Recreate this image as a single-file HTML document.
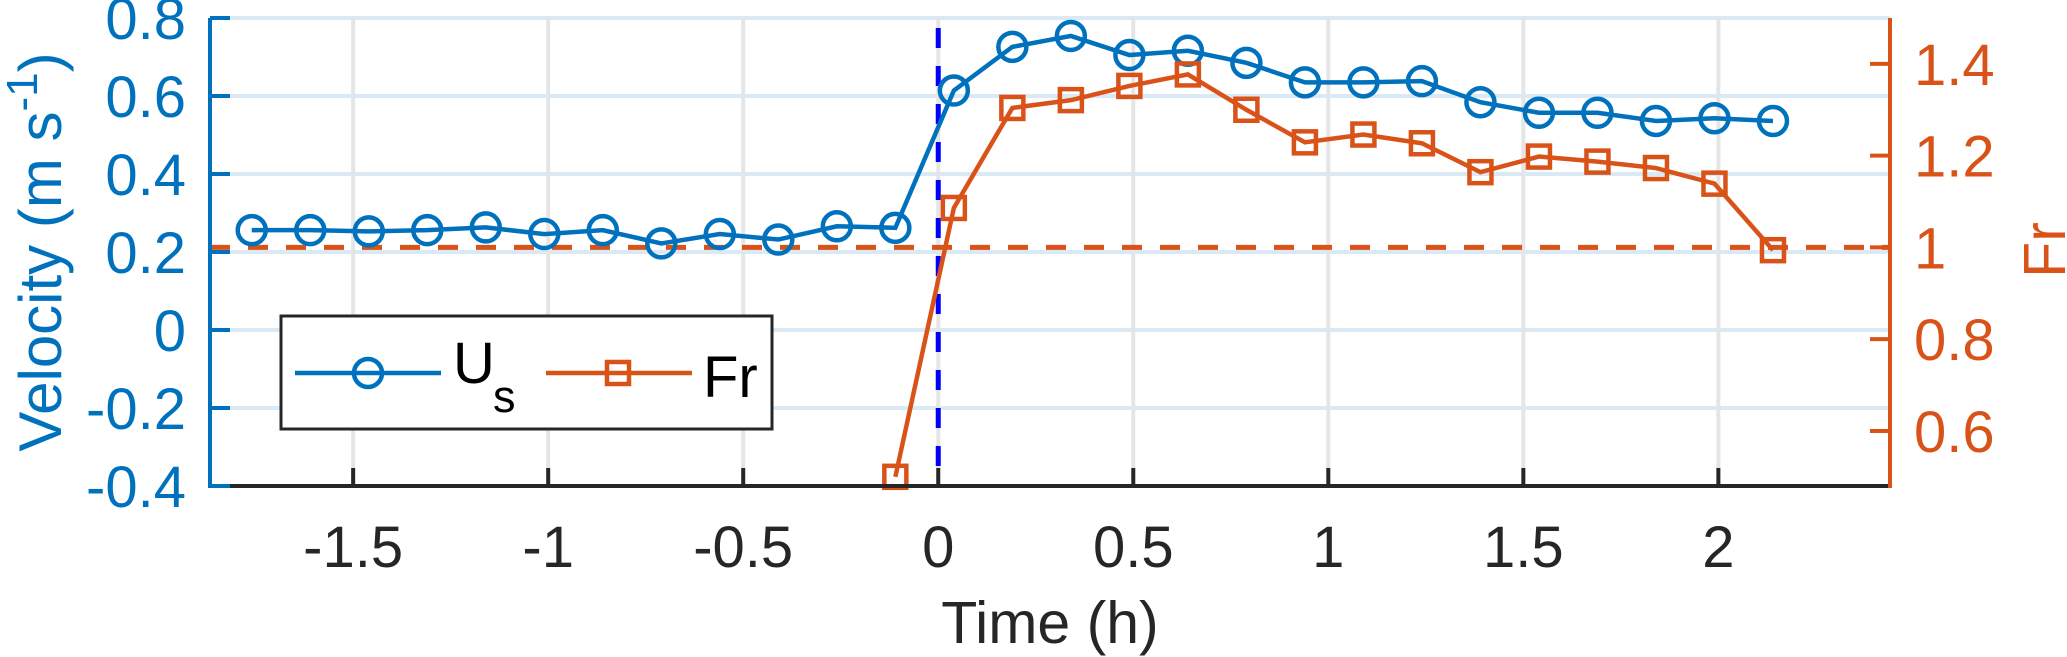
<!DOCTYPE html>
<html><head><meta charset="utf-8"><style>
html,body{margin:0;padding:0;background:#fff;}
svg{display:block;font-family:"Liberation Sans",Arial,sans-serif;}
</style></head><body>
<svg id="chart" width="2067" height="657" viewBox="0 0 2067 657" xmlns="http://www.w3.org/2000/svg">
<g id="grid"></g>
<g id="refs"></g>
<g id="series"></g>
<g id="axes"></g>
<g id="legend">
  <rect x="281" y="316" width="491" height="113" fill="#fff" stroke="#262626" stroke-width="3"/>
  <g>
    <line x1="295" y1="373" x2="441" y2="373" stroke="#0072BD" stroke-width="4.5"/>
    <circle cx="368" cy="373" r="14" fill="none" stroke="#0072BD" stroke-width="4.5"/>
    <text x="453" y="383" font-size="58" fill="#000">U</text>
    <text x="493" y="412" font-size="45" fill="#000">s</text>
  </g>
  <g>
    <line x1="546" y1="373" x2="692" y2="373" stroke="#D95319" stroke-width="4.5"/>
    <rect x="607" y="362" width="22" height="22" fill="none" stroke="#D95319" stroke-width="4.5"/>
    <text x="703" y="397" font-size="58" fill="#000">Fr</text>
  </g>
</g>
</svg>
<script>
const times = [-1.76,-1.61,-1.46,-1.31,-1.16,-1.01,-0.86,-0.71,-0.56,-0.41,-0.26,-0.11,0.04,0.19,0.34,0.49,0.64,0.79,0.94,1.09,1.24,1.39,1.54,1.69,1.84,1.99,2.14];
const usValues = [0.256,0.256,0.253,0.256,0.263,0.246,0.256,0.222,0.246,0.232,0.266,0.262,0.614,0.726,0.754,0.705,0.716,0.685,0.635,0.635,0.638,0.584,0.557,0.557,0.536,0.543,0.536];
const frTimes = [-0.11,0.04,0.19,0.34,0.49,0.64,0.79,0.94,1.09,1.24,1.39,1.54,1.69,1.84,1.99,2.14];
const frValues = [0.50,1.086,1.304,1.321,1.352,1.377,1.300,1.229,1.246,1.227,1.164,1.198,1.187,1.173,1.139,0.994];
const xTicks = [-1.5,-1,-0.5,0,0.5,1,1.5,2];
const xTickLabels = ["-1.5","-1","-0.5","0","0.5","1","1.5","2"];
const yLeftTicks = [-0.4,-0.2,0,0.2,0.4,0.6,0.8];
const yLeftTickLabels = ["-0.4","-0.2","0","0.2","0.4","0.6","0.8"];
const yRightTicks = [0.6,0.8,1,1.2,1.4];
const yRightTickLabels = ["0.6","0.8","1","1.2","1.4"];
const frThreshold = 1;
const eventTime = 0;

const NS = "http://www.w3.org/2000/svg";
const L = 210, R = 1890, T = 18, B = 486;
const xMin = -1.867, xMax = 2.44, yLMin = -0.4, yLMax = 0.8, yRMin = 0.48, yRMax = 1.5;
const X = t => L + (t - xMin) / (xMax - xMin) * (R - L);
const YL = v => B - (v - yLMin) / (yLMax - yLMin) * (B - T);
const YR = v => B - (v - yRMin) / (yRMax - yRMin) * (B - T);
function mk(tag, attrs, parent, txt) {
  const e = document.createElementNS(NS, tag);
  for (const k in attrs) e.setAttribute(k, attrs[k]);
  if (txt !== undefined) e.textContent = txt;
  parent.appendChild(e);
  return e;
}
const grid = document.getElementById('grid'), axes = document.getElementById('axes');
const series = document.getElementById('series'), refs = document.getElementById('refs');
yLeftTicks.forEach(v => {
  const g = mk('line', {x1: L, x2: R, y1: YL(v), y2: YL(v), stroke: '#dbe9f5', 'stroke-width': 4}, grid);
  
  
});
xTicks.forEach(t => {
  const g = mk('line', {x1: X(t), x2: X(t), y1: T, y2: B, stroke: '#e5e5e5', 'stroke-width': 4}, grid);
  
  
});
const hl = mk('line', {x1: L, x2: R, y1: YR(frThreshold), y2: YR(frThreshold), stroke: '#D95319', 'stroke-width': 5, 'stroke-dasharray': '20 18'}, refs);


const vl = mk('line', {x1: X(eventTime), x2: X(eventTime), y1: T + 10, y2: B, stroke: '#0000FF', 'stroke-width': 5, 'stroke-dasharray': '20 18'}, refs);


const usPts = times.map((t, i) => X(t) + ',' + YL(usValues[i])).join(' ');
const usLine = mk('polyline', {points: usPts, fill: 'none', stroke: '#0072BD', 'stroke-width': 4.5}, series);


times.forEach((t, i) => {
  const c = mk('circle', {cx: X(t), cy: YL(usValues[i]), r: 14, fill: 'none', stroke: '#0072BD', 'stroke-width': 4.5}, series);
  
  
});
const frPts = frTimes.map((t, i) => X(t) + ',' + YR(frValues[i])).join(' ');
const frLine = mk('polyline', {points: frPts, fill: 'none', stroke: '#D95319', 'stroke-width': 4.5}, series);


frTimes.forEach((t, i) => {
  const s = mk('rect', {x: X(t) - 11, y: YR(frValues[i]) - 11, width: 22, height: 22, fill: 'none', stroke: '#D95319', 'stroke-width': 4.5}, series);
  
  
});
const xa = mk('line', {x1: L, x2: R, y1: B, y2: B, stroke: '#262626', 'stroke-width': 4}, axes);


xTicks.forEach((t, i) => {
  const tk = mk('line', {x1: X(t), x2: X(t), y1: B, y2: B - 18, stroke: '#262626', 'stroke-width': 4}, axes);
  
  
  const lb = mk('text', {x: X(t), y: 567, 'font-size': 58, fill: '#262626', 'text-anchor': 'middle'}, axes, xTickLabels[i]);
  
  
});
const ya = mk('line', {x1: L, x2: L, y1: T, y2: B + 2, stroke: '#0072BD', 'stroke-width': 4}, axes);


yLeftTicks.forEach((v, i) => {
  const tk = mk('line', {x1: L, x2: L + 20, y1: YL(v), y2: YL(v), stroke: '#0072BD', 'stroke-width': 4}, axes);
  
  
  const lb = mk('text', {x: 186, y: YL(v) + 21, 'font-size': 58, fill: '#0072BD', 'text-anchor': 'end'}, axes, yLeftTickLabels[i]);
  
  
});
const yr = mk('line', {x1: R, x2: R, y1: T, y2: B + 2, stroke: '#D95319', 'stroke-width': 4}, axes);


yRightTicks.forEach((v, i) => {
  const tk = mk('line', {x1: R, x2: R - 20, y1: YR(v), y2: YR(v), stroke: '#D95319', 'stroke-width': 4}, axes);
  
  
  const lb = mk('text', {x: 1914, y: YR(v) + 21, 'font-size': 58, fill: '#D95319'}, axes, yRightTickLabels[i]);
  
  
});
const xt = mk('text', {x: 1050, y: 643, 'font-size': 59, fill: '#262626', 'text-anchor': 'middle'}, axes, 'Time (h)');


const ylt = mk('text', {x: 0, y: 0, 'font-size': 60, fill: '#0072BD', 'text-anchor': 'middle', transform: 'translate(61,252) rotate(-90)'}, axes);


mk('tspan', {}, ylt, 'Velocity (m s');
mk('tspan', {dy: -24, 'font-size': 44}, ylt, '-1');
mk('tspan', {dy: 24}, ylt, ')');
const yrt = mk('text', {x: 0, y: 0, 'font-size': 59, fill: '#D95319', 'text-anchor': 'middle', transform: 'translate(2065,250) rotate(-90)'}, axes, 'Fr');


</script>
</body></html>
